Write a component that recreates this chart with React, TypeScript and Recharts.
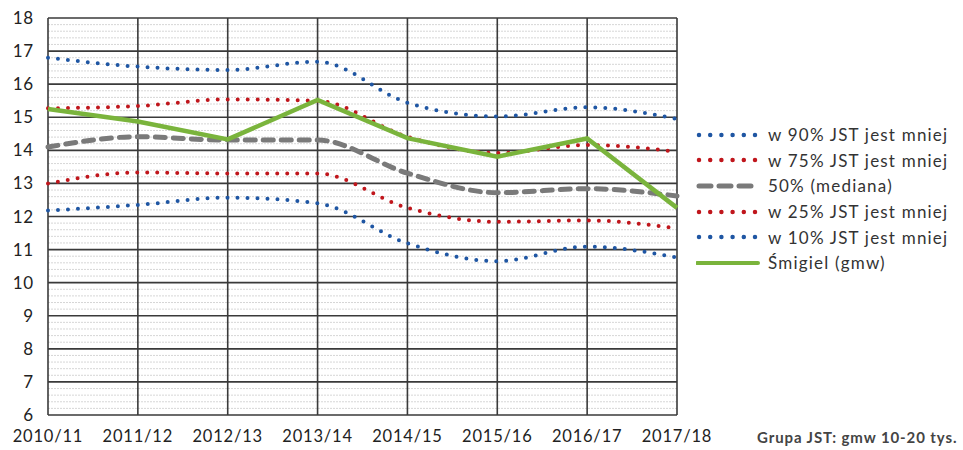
import { LineChart, Line, XAxis, YAxis, CartesianGrid } from 'recharts';

// lata (kategorie osi X)
const years = ['2010/11', '2011/12', '2012/13', '2013/14', '2014/15', '2015/16', '2016/17', '2017/18'];

// wartosci
const p90 = [16.8, 16.53, 16.43, 16.68, 15.44, 15.02, 15.3, 14.95];
const p75 = [15.27, 15.34, 15.54, 15.5, 14.41, 13.92, 14.16, 13.96];
const p50 = [14.1, 14.41, 14.31, 14.31, 13.31, 12.72, 12.84, 12.62];
const p25 = [13.0, 13.33, 13.3, 13.3, 12.26, 11.84, 11.88, 11.64];
const p10 = [12.18, 12.35, 12.57, 12.4, 11.19, 10.65, 11.09, 10.76];
const smigiel = [15.25, 14.87, 14.33, 15.52, 14.37, 13.81, 14.36, 12.26];

const yTicks = [6, 7, 8, 9, 10, 11, 12, 13, 14, 15, 16, 17, 18];
// linie pomocnicze co 0.2
const minorTicks: number[] = [];
for (let v = 6; v < 18; v += 1) {
  [0.2, 0.4, 0.6, 0.8].forEach((f) => minorTicks.push(+(v + f).toFixed(1)));
}

const data = years.map((year, i) => ({
  year,
  p90: p90[i],
  p75: p75[i],
  p50: p50[i],
  p25: p25[i],
  p10: p10[i],
  smigiel: smigiel[i],
}));

const BLUE = '#1f56a3';
const RED = '#c0161c';
const GRAY = '#7a7a7a';
const GREEN = '#7ab43c';

const legendItems = [
  { label: 'w 90% JST jest mniej', color: BLUE, kind: 'dot' },
  { label: 'w 75% JST jest mniej', color: RED, kind: 'dot' },
  { label: '50% (mediana)', color: GRAY, kind: 'dash' },
  { label: 'w 25% JST jest mniej', color: RED, kind: 'dot' },
  { label: 'w 10% JST jest mniej', color: BLUE, kind: 'dot' },
  { label: 'Śmigiel (gmw)', color: GREEN, kind: 'solid' },
];

const FONT = 'Lato, "Open Sans", sans-serif';

function LegendBox() {
  return (
    <div style={{ position: 'absolute', left: 696, top: 122, fontFamily: FONT }}>
      {legendItems.map((it) => (
        <div key={it.label} style={{ display: 'flex', alignItems: 'center', height: 25.6 }}>
          <svg width={66} height={10}>
            {it.kind === 'dot' && (
              <line x1={3} y1={5} x2={60} y2={5} stroke={it.color} strokeWidth={4.5}
                strokeDasharray="0 11.2" strokeLinecap="round" />
            )}
            {it.kind === 'dash' && (
              <line x1={3} y1={5} x2={60} y2={5} stroke={it.color} strokeWidth={5}
                strokeDasharray="12 8" strokeLinecap="round" />
            )}
            {it.kind === 'solid' && (
              <line x1={1} y1={5} x2={62} y2={5} stroke={it.color} strokeWidth={4} strokeLinecap="round" />
            )}
          </svg>
          <span style={{ fontSize: 17, color: '#333', marginLeft: 6, letterSpacing: 1.2 }}>{it.label}</span>
        </div>
      ))}
    </div>
  );
}

export default function App() {
  return (
    <div style={{ position: 'absolute', left: 0, top: 0, width: 963, height: 450, background: '#fff' }}>
      <LineChart width={963} height={450} data={data} margin={{ top: 18, right: 286, left: 0, bottom: 5 }}>
        <CartesianGrid horizontalValues={minorTicks} vertical={false} stroke="#c4c4c4"
          strokeDasharray="2 1" strokeWidth={0.7} />
        <CartesianGrid horizontalValues={yTicks} vertical={true} stroke="#3a3a3a" strokeWidth={1.6} />
        <XAxis dataKey="year" axisLine={false} tickLine={false} tickSize={0} tickMargin={15} height={30}
          interval={0} tick={{ fontSize: 16.5, fill: '#222', fontFamily: FONT, letterSpacing: 0.8 }} />
        <YAxis domain={[6, 18]} ticks={yTicks} axisLine={false} tickLine={false} tickSize={0} tickMargin={14}
          width={48} interval={0} tick={{ fontSize: 17, fill: '#222', fontFamily: FONT, letterSpacing: 0.8 }} />
        <Line type="monotone" dataKey="p90" stroke={BLUE} strokeWidth={4} strokeDasharray="0 10"
          strokeLinecap="round" dot={false} isAnimationActive={false} />
        <Line type="monotone" dataKey="p75" stroke={RED} strokeWidth={4} strokeDasharray="0 10"
          strokeLinecap="round" dot={false} isAnimationActive={false} />
        <Line type="monotone" dataKey="p50" stroke={GRAY} strokeWidth={5} strokeDasharray="10 8"
          strokeLinecap="round" dot={false} isAnimationActive={false} />
        <Line type="monotone" dataKey="p25" stroke={RED} strokeWidth={4} strokeDasharray="0 10"
          strokeLinecap="round" dot={false} isAnimationActive={false} />
        <Line type="monotone" dataKey="p10" stroke={BLUE} strokeWidth={4} strokeDasharray="0 10"
          strokeLinecap="round" dot={false} isAnimationActive={false} />
        <Line type="linear" dataKey="smigiel" stroke={GREEN} strokeWidth={4.5} dot={false}
          isAnimationActive={false} />
      </LineChart>
      <LegendBox />
      <div style={{ position: 'absolute', left: 757, top: 428, fontFamily: FONT, fontSize: 15,
        fontWeight: 700, color: '#444', letterSpacing: 0.9 }}>
        Grupa JST: gmw 10-20 tys.
      </div>
    </div>
  );
}
